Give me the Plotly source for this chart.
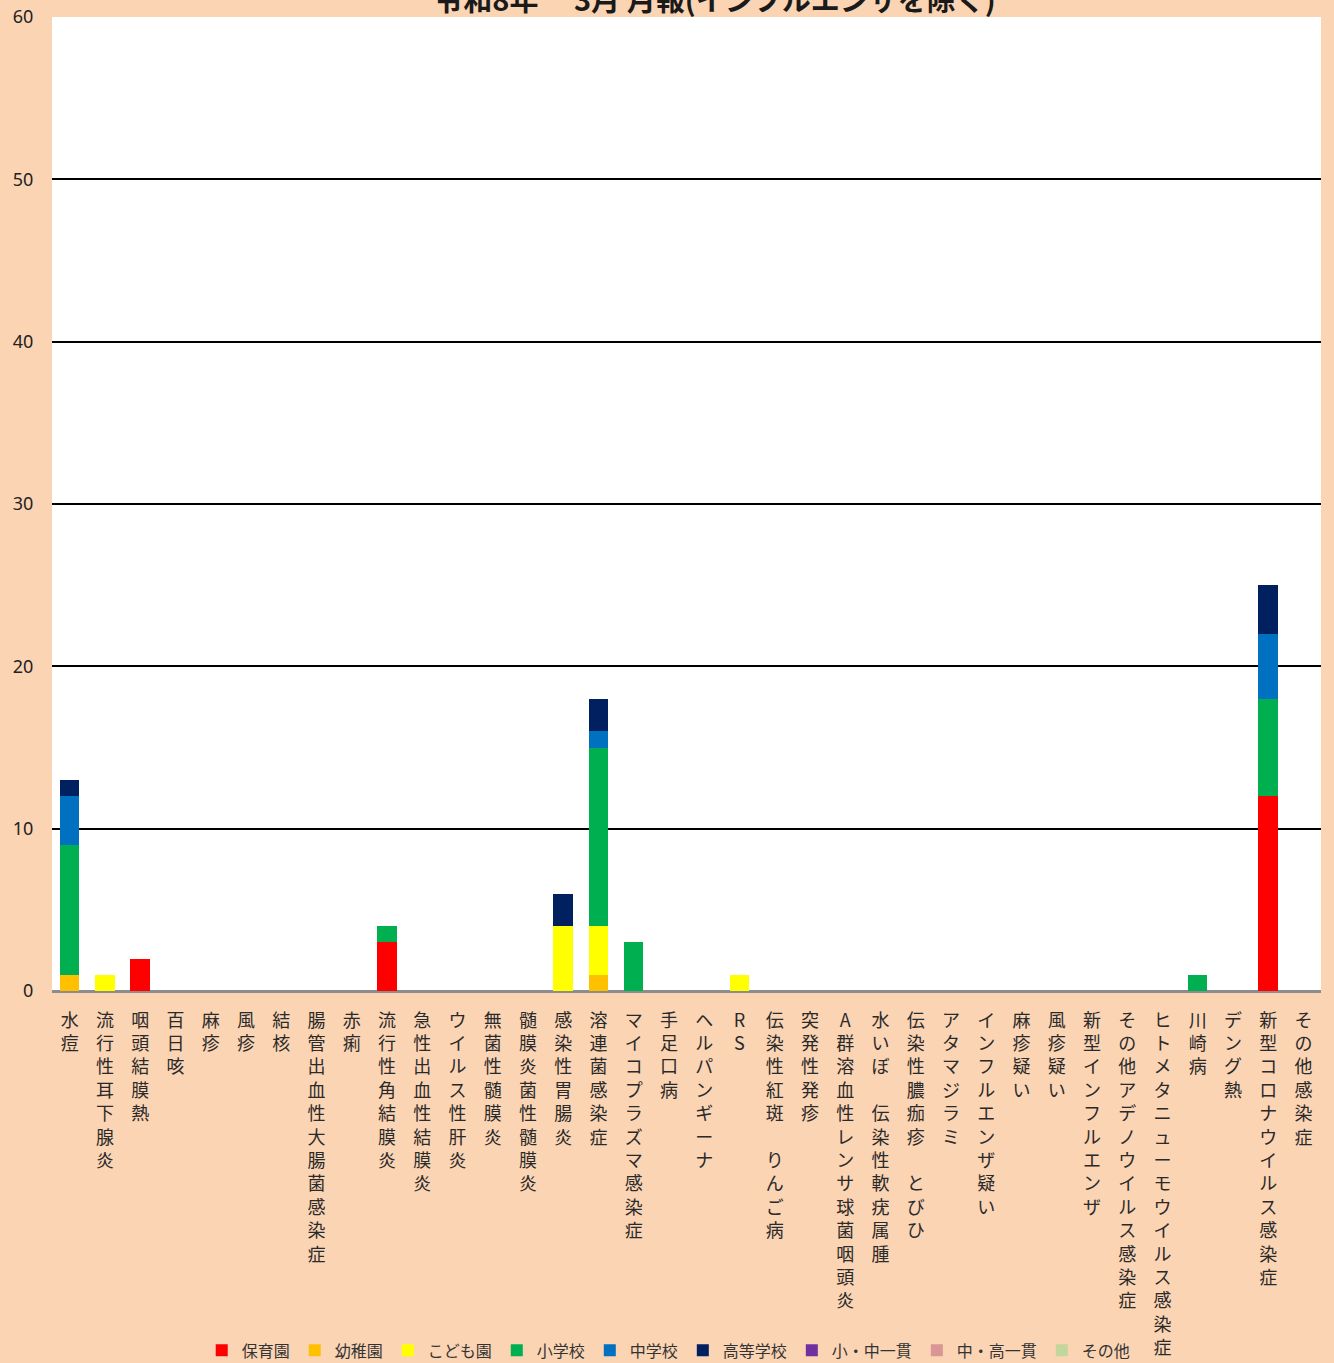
import plotly.graph_objects as go

categories = [
    "水痘", "流行性耳下腺炎", "咽頭結膜熱", "百日咳", "麻疹", "風疹", "結核",
    "腸管出血性大腸菌感染症", "赤痢", "流行性角結膜炎", "急性出血性結膜炎",
    "ウイルス性肝炎", "無菌性髄膜炎", "髄膜炎菌性髄膜炎", "感染性胃腸炎",
    "溶連菌感染症", "マイコプラズマ感染症", "手足口病", "ヘルパンギーナ", "RS",
    "伝染性紅斑　りんご病", "突発性発疹", "A群溶血性レンサ球菌咽頭炎",
    "水いぼ　伝染性軟疣属腫", "伝染性膿痂疹　とびひ", "アタマジラミ",
    "インフルエンザ疑い", "麻疹疑い", "風疹疑い", "新型インフルエンザ",
    "その他アデノウイルス感染症", "ヒトメタニューモウイルス感染症", "川崎病",
    "デング熱", "新型コロナウイルス感染症", "その他感染症",
]

hoikuen        = [0, 0, 2, 0, 0, 0, 0, 0, 0, 3, 0, 0, 0, 0, 0, 0, 0, 0, 0, 0, 0, 0, 0, 0, 0, 0, 0, 0, 0, 0, 0, 0, 0, 0, 12, 0]
youchien       = [1, 0, 0, 0, 0, 0, 0, 0, 0, 0, 0, 0, 0, 0, 0, 1, 0, 0, 0, 0, 0, 0, 0, 0, 0, 0, 0, 0, 0, 0, 0, 0, 0, 0, 0, 0]
kodomoen       = [0, 1, 0, 0, 0, 0, 0, 0, 0, 0, 0, 0, 0, 0, 4, 3, 0, 0, 0, 1, 0, 0, 0, 0, 0, 0, 0, 0, 0, 0, 0, 0, 0, 0, 0, 0]
shougakkou     = [8, 0, 0, 0, 0, 0, 0, 0, 0, 1, 0, 0, 0, 0, 0, 11, 3, 0, 0, 0, 0, 0, 0, 0, 0, 0, 0, 0, 0, 0, 0, 0, 1, 0, 6, 0]
chuugakkou     = [3, 0, 0, 0, 0, 0, 0, 0, 0, 0, 0, 0, 0, 0, 0, 1, 0, 0, 0, 0, 0, 0, 0, 0, 0, 0, 0, 0, 0, 0, 0, 0, 0, 0, 4, 0]
koutougakkou   = [1, 0, 0, 0, 0, 0, 0, 0, 0, 0, 0, 0, 0, 0, 2, 2, 0, 0, 0, 0, 0, 0, 0, 0, 0, 0, 0, 0, 0, 0, 0, 0, 0, 0, 3, 0]
shouchuu       = [0] * 36
chuukou        = [0] * 36
sonota         = [0] * 36

series_names = ["保育園", "幼稚園", "こども園", "小学校", "中学校", "高等学校", "小・中一貫", "中・高一貫", "その他"]
series_values = [hoikuen, youchien, kodomoen, shougakkou, chuugakkou, koutougakkou, shouchuu, chuukou, sonota]
series_colors = ["#FF0000", "#FFC000", "#FFFF00", "#00B050", "#0070C0", "#002060", "#7030A0", "#D99694", "#C3D69B"]

y_ticks = [0, 10, 20, 30, 40, 50, 60]

title_text = "令和8年　 3月 月報(インフルエンザを除く)"

# vertical (stacked) tick labels
tick_text = ["<br>".join(list(c)) for c in categories]

fig = go.Figure()
for name, vals, col in zip(series_names, series_values, series_colors):
    fig.add_trace(go.Bar(
        name=name, x=categories, y=vals,
        marker=dict(color=col, line=dict(width=0)),
    ))

font_jp = "Noto Sans CJK JP"

fig.update_layout(
    barmode="stack",
    bargap=0.45,
    width=1334, height=1363,
    paper_bgcolor="#FBD4B4",
    plot_bgcolor="#FFFFFF",
    margin=dict(l=52, r=13, t=17, b=372, autoexpand=False),
    title=dict(
        text="<b>" + title_text + "</b>",
        x=0.536, xanchor="center",
        y=0.9995, yref="container", yanchor="middle",
        automargin=False,
        font=dict(family=font_jp, size=29, color="#1a1a1a"),
    ),
    legend=dict(
        orientation="h",
        x=0.486, xanchor="center", xref="paper",
        y=-0.369, yref="paper", yanchor="middle",
        font=dict(family=font_jp, size=16, color="#333333"),
        itemwidth=30,
        traceorder="normal",
        bgcolor="rgba(0,0,0,0)",
    ),
    showlegend=True,
)

fig.update_xaxes(
    type="category",
    categoryorder="array", categoryarray=categories,
    tickmode="array", tickvals=categories, ticktext=tick_text,
    tickangle=0,
    tickfont=dict(family=font_jp, size=18, color="#2a2a2a"),
    ticks="outside", ticklen=12, tickcolor="rgba(0,0,0,0)",
    showline=True, linecolor="#8C8C8C", linewidth=2,
    showgrid=False,
    range=[-0.5, len(categories) - 0.5],
)

fig.update_yaxes(
    range=[0, 60],
    tickmode="array", tickvals=y_ticks,
    tickfont=dict(family="Noto Sans", size=18, color="#222222"),
    ticks="outside", ticklen=14, tickcolor="rgba(0,0,0,0)",
    showgrid=True, gridcolor="#000000", gridwidth=2,
    zeroline=True, zerolinecolor="#8C8C8C", zerolinewidth=2,
    showline=False,
)

fig.write_html(
    "out.html",
    config={"displayModeBar": False},
    post_script="document.body.style.margin='0';document.body.style.overflow='hidden';",
)
